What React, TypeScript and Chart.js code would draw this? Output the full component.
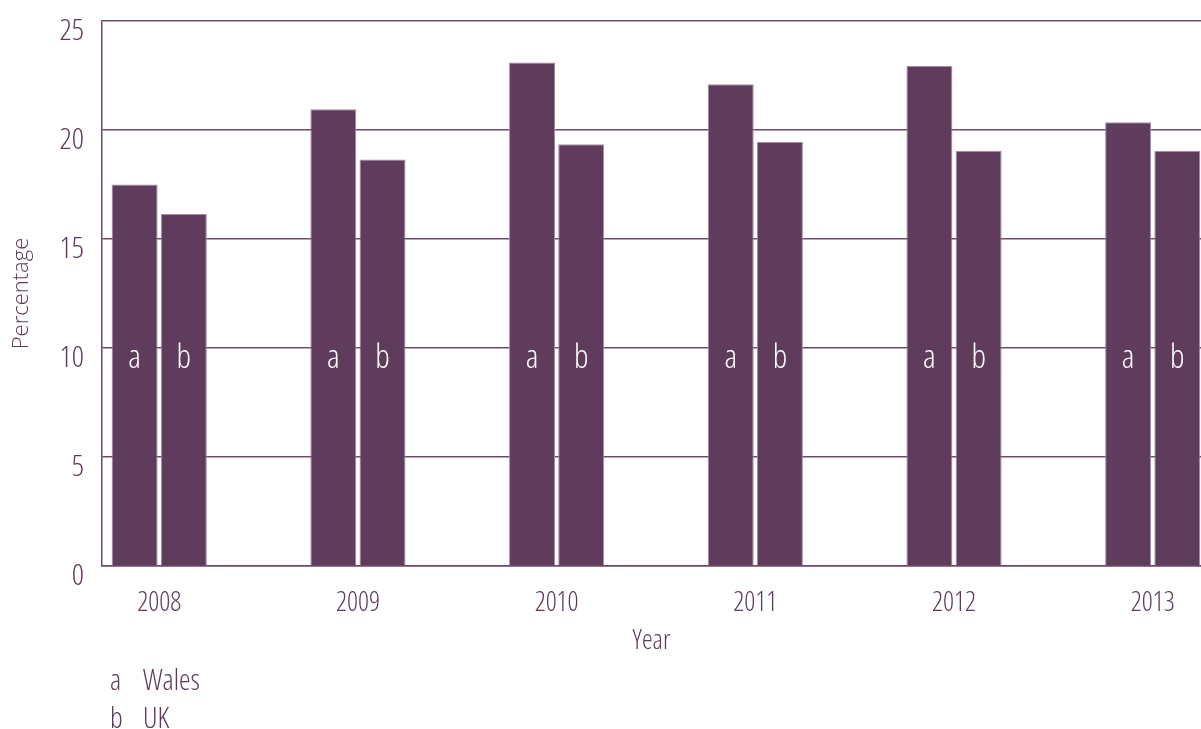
import React, { useEffect, useRef } from "react";
import { Chart, registerables } from "chart.js";

Chart.register(...registerables);

const years = ["2008", "2009", "2010", "2011", "2012", "2013"];
const wales = [17.5, 20.95, 23.1, 22.1, 22.95, 20.35];
const uk = [16.15, 18.65, 19.35, 19.45, 19.05, 19.05];
const seriesKeys = ["a", "b"];
const seriesNames = ["Wales", "UK"];
const yTicks = [0, 5, 10, 15, 20, 25];

const FONT = '"Open Sans", "Noto Sans", sans-serif';
const COND: any = "condensed 350";
const NORMAL: any = "350";
const TEXT = "#5e3b5a";
const BAR = "#603c5c";
const GRID = "#6d4a69";
const LABEL_VALUE = 10;

const barLetters = {
  id: "barLetters",
  afterDatasetsDraw(chart: any) {
    const ctx = chart.ctx;
    const yScale = chart.scales.y;
    ctx.save();
    ctx.fillStyle = "#ffffff";
    ctx.font = `condensed 350 33px ${FONT}`;
    ctx.textAlign = "center";
    ctx.textBaseline = "alphabetic";
    chart.data.datasets.forEach((ds: any, di: number) => {
      const meta = chart.getDatasetMeta(di);
      meta.data.forEach((el: any) => {
        ctx.fillText(seriesKeys[di], el.x, yScale.getPixelForValue(LABEL_VALUE) + 20);
      });
    });
    ctx.restore();
  },
};

export default function App() {
  const ref = useRef<HTMLCanvasElement>(null);
  useEffect(() => {
    if (!ref.current) return;
    const mk = (i: number, vals: number[]) => ({
      label: seriesNames[i],
      data: vals.map((v, j) => ({ x: j, y: v })),
      backgroundColor: BAR,
      borderColor: "#a68aa3",
      borderWidth: 1,
      categoryPercentage: 0.495,
      barPercentage: 0.935,
    });
    const chart = new Chart(ref.current, {
      type: "bar",
      data: { datasets: [mk(0, wales), mk(1, uk)] },
      options: {
        animation: false,
        responsive: false,
        maintainAspectRatio: false,
        layout: { padding: { top: 21, left: 0, right: 0, bottom: 0 } },
        plugins: { legend: { display: false }, tooltip: { enabled: false } },
        scales: {
          x: {
            type: "linear",
            offset: false,
            min: -0.288,
            max: 5.243,
            afterFit: (s: any) => {
              s.height = 163;
              s.paddingLeft = 0;
              s.paddingRight = 0;
            },
            grid: { display: false, drawTicks: false },
            border: { display: true, color: GRID, width: 1.5 },
            ticks: {
              stepSize: 1,
              includeBounds: false,
              autoSkip: false,
              maxRotation: 0,
              padding: 21,
              color: TEXT,
              font: { family: FONT, size: 27, weight: COND },
              callback: (v: any) => years[v as number] ?? "",
            },
            title: {
              display: true,
              text: "Year",
              color: TEXT,
              font: { family: FONT, size: 27, weight: COND },
              padding: { top: 0, bottom: 71 },
            },
          },
          y: {
            min: 0,
            max: 25,
            afterFit: (s: any) => {
              s.width = 102;
              s.paddingTop = 0;
              s.paddingBottom = 0;
            },
            afterBuildTicks: (s: any) => {
              s.ticks = yTicks.map((v) => ({ value: v }));
            },
            grid: { color: GRID, lineWidth: 1.5, drawTicks: false },
            border: { display: true, color: GRID, width: 1.5 },
            ticks: {
              padding: 18,
              labelOffset: 10,
              color: TEXT,
              font: { family: FONT, size: 30, weight: COND },
            },
            title: {
              display: true,
              text: "Percentage",
              color: TEXT,
              font: { family: FONT, size: 22, weight: NORMAL },
              padding: { top: 9, bottom: 0 },
            },
          },
        },
      },
      plugins: [barLetters],
    });
    return () => chart.destroy();
  }, []);

  const legendRow = (i: number, top: number) => (
    <div
      key={i}
      style={{
        position: "absolute",
        left: 110,
        top,
        fontFamily: FONT,
        fontWeight: 350,
        fontStretch: "condensed",
        fontSize: 29,
        lineHeight: "29px",
        color: TEXT,
        whiteSpace: "nowrap",
      }}
    >
      <span style={{ display: "inline-block", width: 33 }}>{seriesKeys[i]}</span>
      <span>{seriesNames[i]}</span>
    </div>
  );

  return (
    <div
      style={{
        position: "fixed",
        left: 0,
        top: 0,
        width: 1201,
        height: 729,
        background: "#ffffff",
        overflow: "hidden",
      }}
    >
      <canvas ref={ref} width={1201} height={729} style={{ display: "block" }} />
      {legendRow(0, 664)}
      {legendRow(1, 702)}
    </div>
  );
}
